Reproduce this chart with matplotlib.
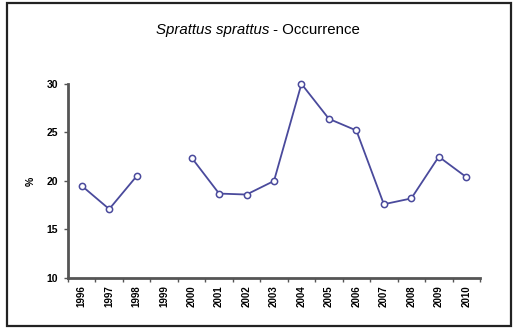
import numpy as np
import matplotlib.pyplot as plt
from matplotlib.patches import Rectangle

plt.rcParams['font.family'] = ['Liberation Sans', 'DejaVu Sans']

years = ['1996', '1997', '1998', '1999', '2000', '2001', '2002', '2003',
         '2004', '2005', '2006', '2007', '2008', '2009', '2010']
# 1999 has no sample
occurrence = [19.5, 17.1, 20.5, np.nan, 22.4, 18.7, 18.6, 20.0,
              30.0, 26.4, 25.2, 17.6, 18.2, 22.5, 20.4]

fig = plt.figure(figsize=(5.13, 3.29), dpi=100)
ax = fig.add_axes([0.1326, 0.155, 0.803, 0.590])

x = np.arange(len(years))
ax.plot(x, occurrence, color='#4a4a9c', lw=1.3, marker='o', ms=4.5,
        mfc='white', mec='#4a4a9c', mew=1.1, clip_on=False, zorder=3)

ax.set_xlim(-0.5, len(years) - 0.5)
ax.set_ylim(10, 30)
ax.set_yticks([10, 15, 20, 25, 30])

# category axis: ticks between years, labels centred
ax.set_xticks(np.arange(-0.5, len(years), 1.0))
ax.set_xticklabels([])
ax.set_xticks(x, minor=True)
ax.set_xticklabels(years, minor=True, rotation=90, fontsize=7, fontweight='bold')
ax.tick_params(axis='x', which='minor', length=0, pad=5)
ax.tick_params(axis='x', which='major', length=3, width=1, color='#555555', direction='out')
ax.tick_params(axis='y', length=3, width=1, color='#555555', direction='out',
               labelsize=7.5, pad=4)
for t in ax.get_yticklabels():
    t.set_fontweight('bold')

for s in ['top', 'right']:
    ax.spines[s].set_visible(False)
for s in ['left', 'bottom']:
    ax.spines[s].set_color('#555555')
    ax.spines[s].set_linewidth(2)

ax.set_ylabel('%', fontsize=7.5, fontweight='bold', labelpad=8)

fig.text(269 / 513, 1 - 30 / 329, 'Sprattus sprattus', style='italic',
         ha='right', va='center', fontsize=10.8)
fig.text(269 / 513, 1 - 30 / 329, ' - Occurrence', ha='left', va='center', fontsize=10.8)

# outer frame
fig.patches.append(Rectangle((7 / 513, 3 / 329), 504 / 513, 323 / 329,
                             transform=fig.transFigure, fill=False,
                             edgecolor='#222222', lw=1.6))

fig.savefig('out.png', dpi=100)
